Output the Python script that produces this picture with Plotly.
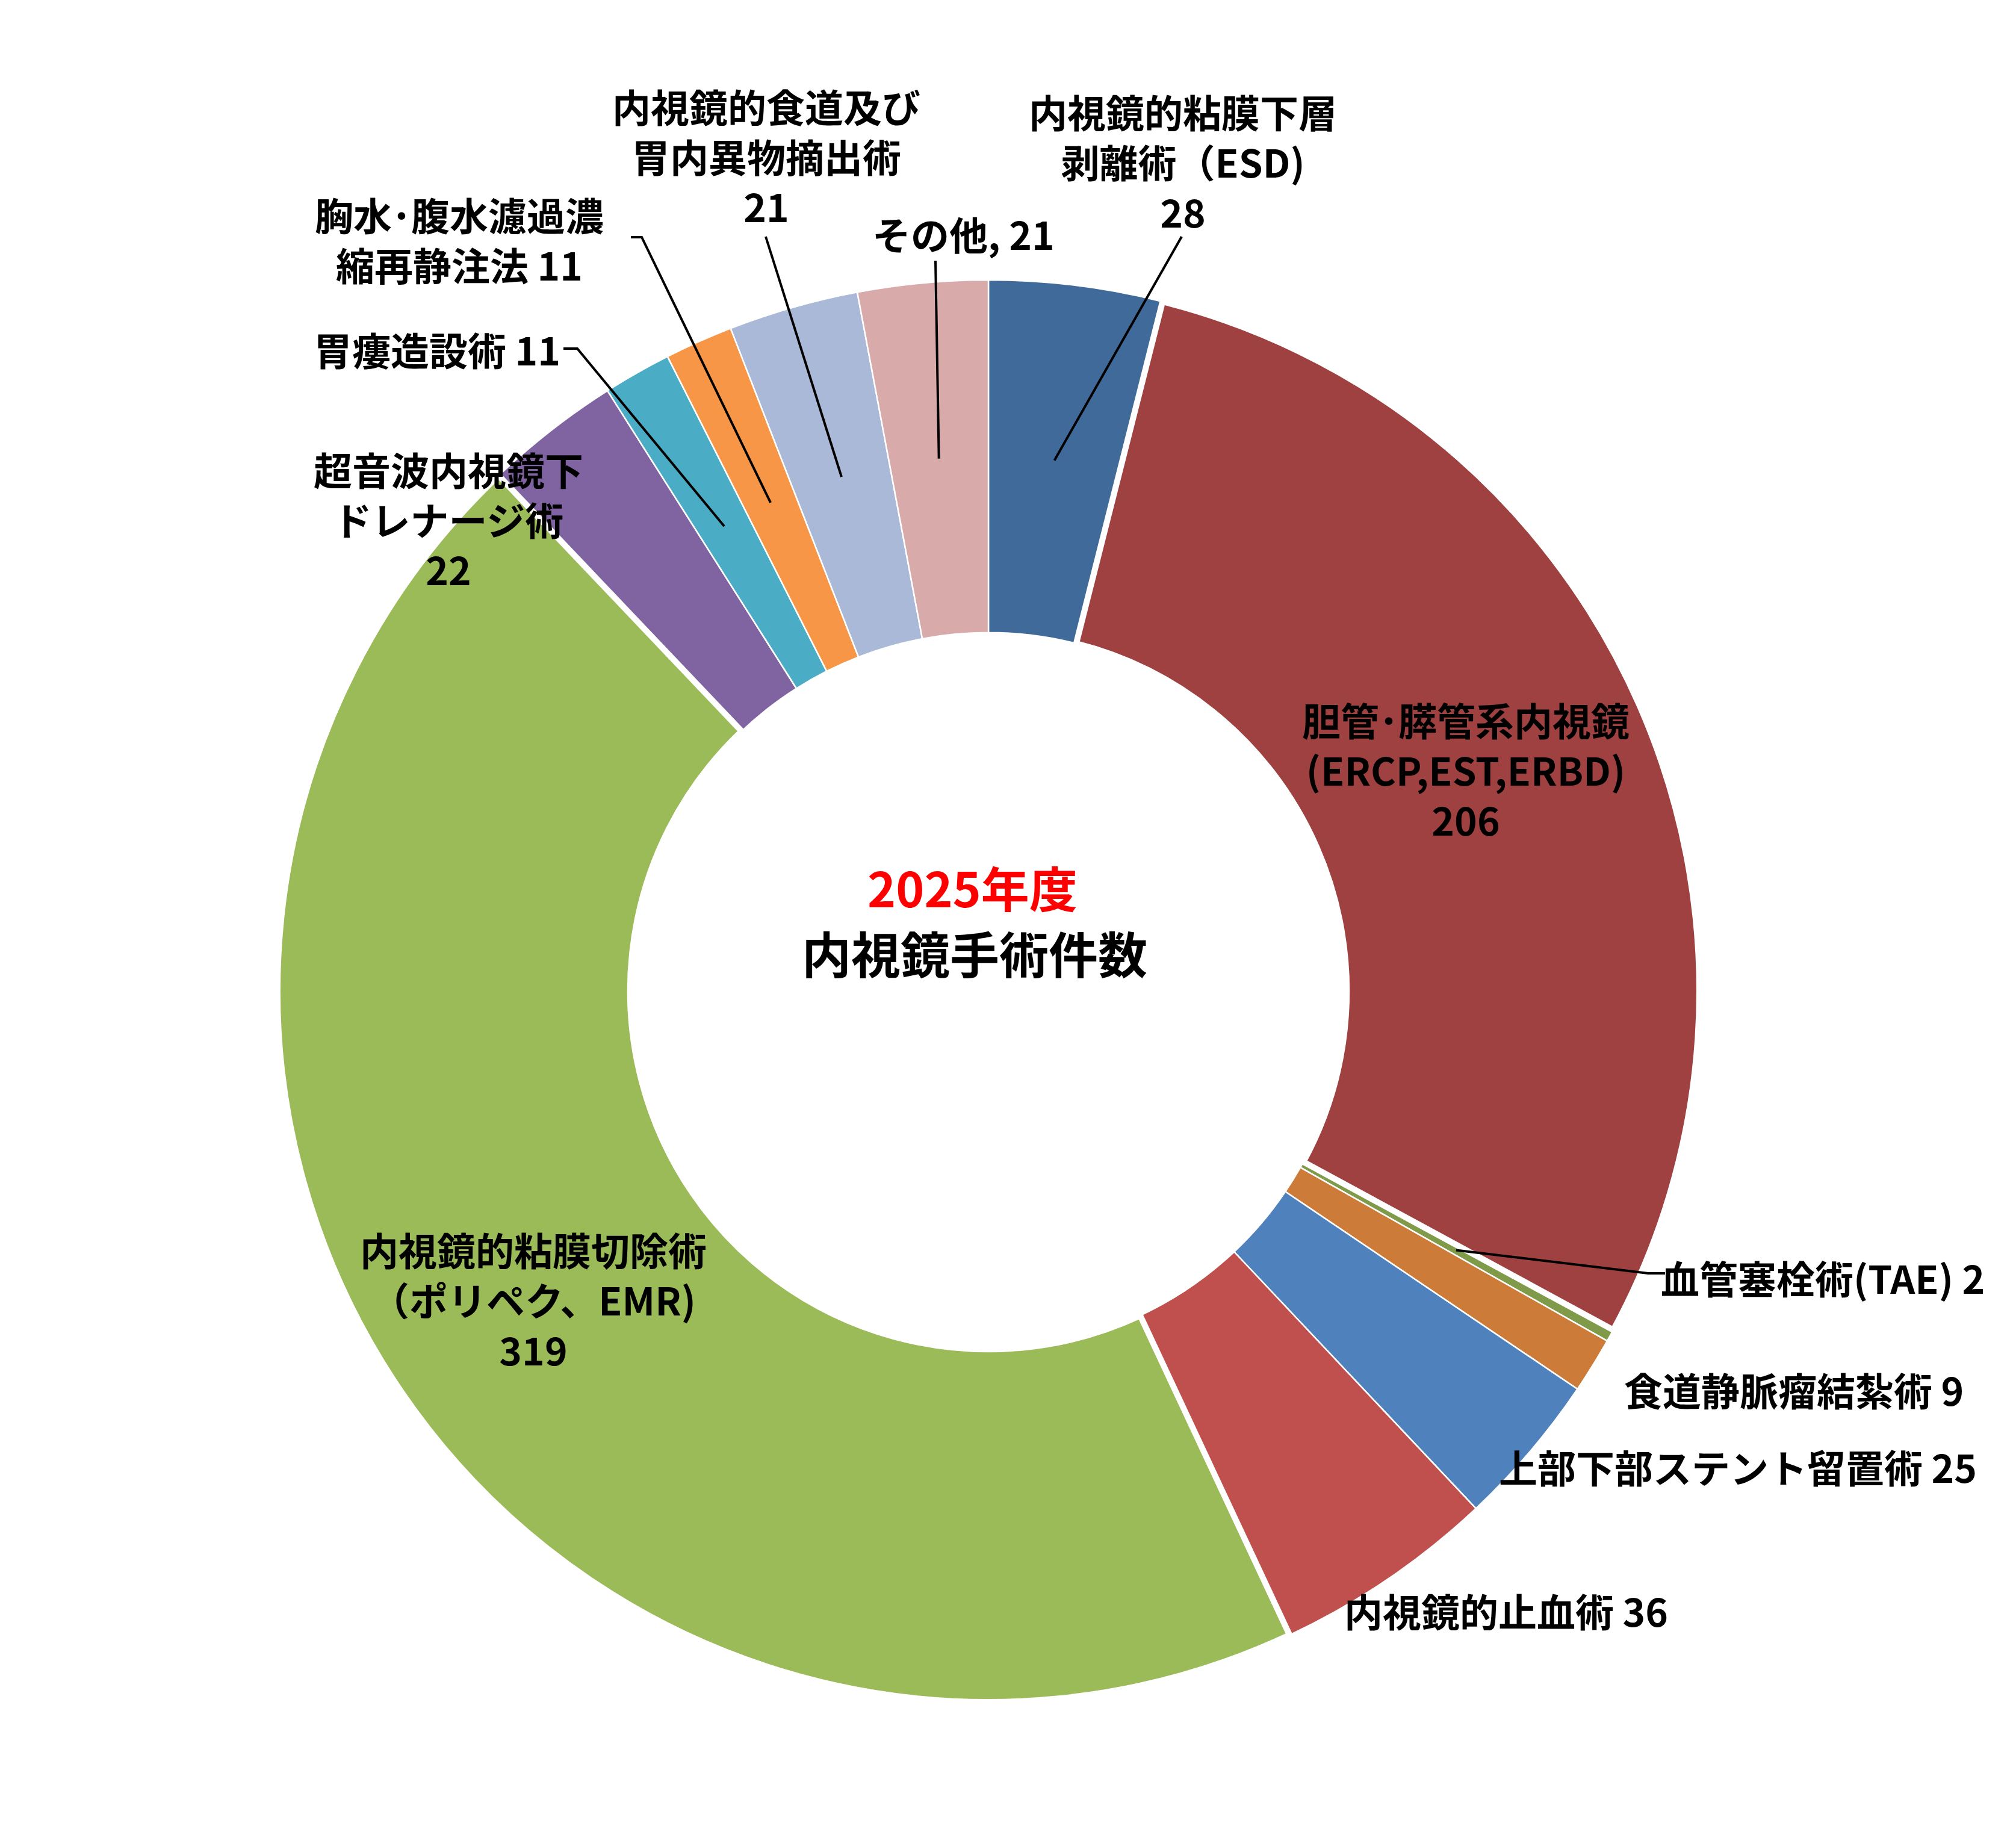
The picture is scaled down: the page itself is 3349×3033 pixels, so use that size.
import numpy as np
import plotly.graph_objects as go

# ---------------- data ----------------
categories = [
    "内視鏡的粘膜下層剥離術（ESD)",
    "胆管･膵管系内視鏡(ERCP,EST,ERBD)",
    "血管塞栓術(TAE)",
    "食道静脈瘤結紮術",
    "上部下部ステント留置術",
    "内視鏡的止血術",
    "内視鏡的粘膜切除術（ポリペク、EMR)",
    "超音波内視鏡下ドレナージ術",
    "胃瘻造設術",
    "胸水･腹水濾過濃縮再静注法",
    "内視鏡的食道及び胃内異物摘出術",
    "その他",
]
values = [28, 206, 2, 9, 25, 36, 319, 22, 11, 11, 21, 21]
label_templates = [
    "内視鏡的粘膜下層<br>剥離術（ESD)<br>{v}",
    "胆管･膵管系内視鏡<br>(ERCP,EST,ERBD)<br>{v}",
    "血管塞栓術(TAE) {v}",
    "食道静脈瘤結紮術 {v}",
    "上部下部ステント留置術 {v}",
    "内視鏡的止血術 {v}",
    "内視鏡的粘膜切除術<br>（ポリペク、EMR)<br>{v}",
    "超音波内視鏡下<br>ドレナージ術<br>{v}",
    "胃瘻造設術 {v}",
    "胸水･腹水濾過濃<br>縮再静注法 {v}",
    "内視鏡的食道及び<br>胃内異物摘出術<br>{v}",
    "その他, {v}",
]
colors = ["#406A9A", "#9E4140", "#7F9B4A", "#CC7B39", "#4F81BD", "#C0504D",
          "#9BBB59", "#8064A2", "#4BACC6", "#F79646", "#AAB9D7", "#D9AAAA"]
title_year = "2025年度"
title_main = "内視鏡手術件数"

# ---------------- layout constants ----------------
PAGE_W, PAGE_H = 3349, 3033
OFF = 8                      # default page body margin
W, H = PAGE_W - 2 * OFF, PAGE_H - 2 * OFF
CX, CY, R_OUT = 1642, 1646, 1181   # page pixel coordinates
HOLE = 0.504
FONT = "Noto Sans CJK JP"

def px(x):
    return (x - OFF) / W

def py(y):
    return 1 - (y - OFF) / H

dom_x = [px(CX - R_OUT), px(CX + R_OUT)]
dom_y = [py(CY + R_OUT), py(CY - R_OUT)]

n = len(values)
thick = [0] * n
thick[1] = 10
thick[6] = 10

fig = go.Figure()
fig.add_trace(go.Pie(
    labels=categories, values=values, sort=False, direction="clockwise",
    rotation=0, hole=HOLE, textinfo="none", domain=dict(x=dom_x, y=dom_y),
    marker=dict(colors=colors, line=dict(color="white", width=2.5)),
    showlegend=False,
))
# emphasised (wider white) borders on two slices
fig.add_trace(go.Pie(
    labels=categories, values=values, sort=False, direction="clockwise",
    rotation=0, hole=HOLE, textinfo="none", domain=dict(x=dom_x, y=dom_y),
    marker=dict(colors=["rgba(0,0,0,0)"] * n, line=dict(color="white", width=thick)),
    showlegend=False, hoverinfo="skip",
))

# label positions (centre of text block, page pixels)
label_pos = [
    (1965, 267), (2435, 1277), (3028, 2121), (2980, 2307), (2887, 2435),
    (2502, 2674), (886, 2157), (745, 861), (726, 579), (763, 397),
    (1273, 258), (1600, 387),
]
annotations = []
for i in range(n):
    x, y = label_pos[i]
    annotations.append(dict(
        x=px(x), y=py(y), xref="paper", yref="paper", showarrow=False,
        text=label_templates[i].format(v=values[i]), align="center",
        xanchor="center", yanchor="middle",
        font=dict(family=FONT, size=64, color="black", weight="bold"),
    ))
annotations.append(dict(
    x=px(1615), y=py(1472), xref="paper", yref="paper", showarrow=False,
    text=title_year, xanchor="center", yanchor="middle",
    font=dict(family=FONT, size=80, color="#FF0000", weight="bold"),
))
annotations.append(dict(
    x=px(1619), y=py(1581), xref="paper", yref="paper", showarrow=False,
    text=title_main, xanchor="center", yanchor="middle",
    font=dict(family=FONT, size=82, color="black", weight="bold"),
))

# leader lines: from label side to the middle of the ring at slice bisector
vals = np.array(values, dtype=float)
total = vals.sum()
before = np.concatenate([[0], np.cumsum(vals)[:-1]])
theta = (before + vals / 2) / total * 2 * np.pi
r_mid = R_OUT * (1 + HOLE) / 2
mid_x = CX + r_mid * np.sin(theta)
mid_y = CY - r_mid * np.cos(theta)

leader_pts = {
    0: [(1963, 393)],
    2: [(2766, 2115), (2738, 2115)],
    8: [(936, 579), (959, 579)],
    9: [(1048, 394), (1066, 394)],
    10: [(1272, 393)],
    11: [(1554, 433)],
}
shapes = []
for i, pts in leader_pts.items():
    allp = pts + [(mid_x[i], mid_y[i])]
    d = "M " + " L ".join(f"{px(a):.6f},{py(b):.6f}" for a, b in allp)
    shapes.append(dict(type="path", path=d, xref="paper", yref="paper",
                       line=dict(color="black", width=4)))

fig.update_layout(
    width=W, height=H, margin=dict(l=0, r=0, t=0, b=0),
    paper_bgcolor="white", plot_bgcolor="white",
    annotations=annotations, shapes=shapes, showlegend=False,
)
fig.write_html("out.html")
